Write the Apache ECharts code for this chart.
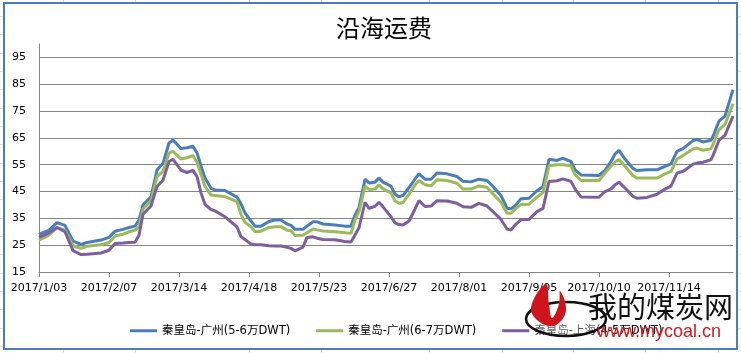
<!DOCTYPE html>
<html>
<head>
<meta charset="utf-8">
<script src="https://cdn.jsdelivr.net/npm/echarts@6/dist/echarts.min.js"></script>
<style>
	html, body { margin: 0; padding: 0; }
	body {
		width: 741px; height: 353px; position: relative; overflow: hidden;
		background-color: #fff;
		background-image: repeating-linear-gradient(to bottom, transparent 0, transparent 16px, #dadcdd 16px, #dadcdd 17px, transparent 17px, transparent 18.33px);
	}
	.col { position: absolute; top: 0; width: 1px; height: 353px; background: #dadcdd; }
	#frame {
		position: absolute; left: 3px; top: 2px; width: 731px; height: 344px;
		border: 2px solid #4a7ebb; background: #fff;
	}
	#main { position: absolute; left: 0; top: 0; width: 741px; height: 353px; }
</style>
</head>
<body>
<div id="frame"></div>
<div id="main"></div>
<script>
// days counted from 2017/1/03
var days = [0, 5, 9, 13, 17, 21, 24, 31, 35, 38, 42, 45, 48, 50, 52, 56, 59, 62, 65, 67,
	71, 74, 77, 79, 81, 83, 86, 88, 93, 99, 101, 103, 106, 108, 111, 115, 118, 121, 124, 126,
	128, 132, 134, 137, 139, 142, 148, 153, 156, 158, 160, 163, 165, 168, 170, 172, 176, 178, 180, 182,
	185, 188, 190, 193, 196, 199, 204, 209, 212, 216, 220, 224, 227, 231, 234, 236, 238, 241, 245, 249,
	252, 255, 259, 262, 266, 268, 271, 280, 283, 286, 288, 290, 293, 297, 299, 304, 309, 313, 316, 319,
	322, 327, 329, 332, 336, 337, 340, 343, 347];

var gz56 = [29, 30.6, 33.4, 32.4, 26.5, 25.3, 26, 26.9, 27.9, 30.2, 30.9, 31.6, 32.1, 34.4, 40, 43, 53, 55.5, 63.1, 64.2,
	61, 61.3, 61.9, 59.4, 54.5, 50, 46.2, 45.6, 45.4, 42.9, 40.4, 37, 34, 32.1, 32.1, 33.8, 34.4, 34.4, 32.9, 32.4,
	30.9, 30.9, 32.1, 33.7, 33.7, 32.9, 32.5, 32.1, 32.1, 36.2, 39.1, 49.6, 48.2, 48.5, 50, 48.5, 47, 44, 43.1, 43.5,
	46.5, 49.6, 51.6, 49.6, 49.6, 51.9, 51.6, 50.6, 48.8, 48.6, 49.6, 49.1, 46.9, 43.5, 38.8, 38.6, 39.6, 42.3, 42.5, 45.3,
	46.9, 57, 56.6, 57.4, 56.2, 53.1, 51.2, 51, 52.9, 56.2, 59, 60.4, 57.1, 53.6, 52.8, 53.1, 53.1, 54.4, 55.3, 60,
	61, 64, 64.4, 63.5, 64.1, 65.5, 71.3, 73.1, 83];

var gz67 = [26.9, 28.7, 31.6, 30.6, 24.8, 23.8, 24.6, 25.2, 25.9, 28.4, 29.1, 30, 30.6, 31.9, 38.5, 41.5, 50.6, 52.5, 59.4, 60,
	57.1, 57.6, 58.4, 55.9, 51.5, 46.9, 43.7, 43.5, 43.1, 41.2, 36.5, 33.5, 31.9, 30, 30.2, 31.6, 31.9, 31.9, 30.6, 30.4,
	28.6, 28.7, 29.6, 31, 30.7, 30.3, 30, 29.6, 29.4, 34.4, 37.5, 46.9, 45.8, 45.9, 47.5, 46, 44.5, 41.5, 40.6, 40.9,
	44, 47.5, 49.1, 47.5, 47.1, 49.4, 49.1, 48.1, 45.9, 45.9, 47.1, 46.6, 44.1, 41, 36.9, 36.9, 38.5, 40.2, 40.3, 42.9,
	44.6, 54.6, 55, 55, 54.6, 51.3, 49.1, 49.1, 51.9, 54.5, 56, 56.9, 54.4, 50.9, 50, 50, 50, 51.6, 52.5, 57.1,
	58.4, 60.9, 61.2, 60.4, 60.9, 62.5, 68.1, 70, 77.7];

var sh45 = [27.9, 29.6, 31.6, 30, 23, 21.5, 21.6, 22.1, 23.1, 25.6, 25.8, 26, 26.1, 28.7, 36.5, 39.6, 46.9, 49.2, 56.2, 57,
	53, 52.1, 52.9, 50.6, 44.5, 40.2, 38.3, 37.8, 35.6, 31.8, 28.2, 27.1, 25.4, 25.2, 25.2, 24.8, 24.7, 24.7, 24.2, 23.8,
	22.9, 24.3, 27.9, 28.1, 27.6, 27.1, 27, 26.4, 26.2, 28.8, 31.5, 41, 38.7, 39.5, 41, 39.3, 35.6, 33.3, 32.7, 32.5,
	34, 38.5, 41.6, 39.4, 39.6, 41.6, 41.5, 40.6, 39.3, 39.1, 40.6, 39.6, 37.5, 34.6, 31, 30.6, 32.5, 34.5, 34.6, 37.5,
	38.7, 48.75, 49, 49.7, 48.8, 46, 43, 42.9, 45, 46, 47.5, 48.5, 46.3, 43.2, 42.5, 42.8, 44, 45.9, 47, 51.9,
	52.5, 55.2, 55.6, 55.9, 56.9, 58.4, 64.1, 66, 73.1];

var seriesNames = ['秦皇岛-广州(5-6万DWT)', '秦皇岛-广州(6-7万DWT)', '秦皇岛-上海(4-5万DWT)'];
var seriesColors = ['#4a7ebb', '#9bbb59', '#7d5f9f'];
var sheetCols = [63, 135, 249, 321, 429, 502, 573, 645, 718];

sheetCols.forEach(function (x) {
	var d = document.createElement('div');
	d.className = 'col';
	d.style.left = x + 'px';
	document.body.insertBefore(d, document.getElementById('frame'));
});

function pair(vals) {
	return days.map(function (d, i) { return [d, vals[i]]; });
}

function dateLabel(v) {
	var d = new Date(2017, 0, 3 + v);
	var dd = d.getDate();
	return '2017/' + (d.getMonth() + 1) + '/' + (dd < 10 ? '0' + dd : dd);
}

var allVals = [gz56, gz67, sh45];
var series = [];
for (var i = 0; i < 3; i++) {
	series.push({
		name: seriesNames[i],
		type: 'line',
		showSymbol: false,
		lineStyle: { width: 3, color: seriesColors[i] },
		itemStyle: { color: seriesColors[i] },
		data: pair(allVals[i])
	});
}

var myChart = echarts.init(document.getElementById('main'));
var option = {
	animation: false,
	title: {
		text: '沿海运费',
		left: 331,
		top: 11,
		textStyle: { fontFamily: 'Noto Sans CJK SC', fontSize: 24, fontWeight: 'normal', color: '#000' }
	},
	legend: {
		left: 125,
		top: 320,
		icon: 'rect',
		itemWidth: 27,
		itemHeight: 3,
		itemGap: 26,
		data: seriesNames,
		textStyle: { fontFamily: 'DejaVu Sans, Noto Sans CJK SC', fontSize: 11.5, color: '#000' }
	},
	grid: { left: 39, right: 8, top: 44, bottom: 81 },
	xAxis: {
		type: 'value',
		min: 0,
		max: 347,
		interval: 35,
		axisLine: { lineStyle: { color: '#868686', width: 1 } },
		axisTick: { show: true, length: 5, lineStyle: { color: '#868686' } },
		splitLine: { show: false },
		axisLabel: {
			showMaxLabel: false,
			margin: 11,
			color: '#000',
			fontFamily: 'DejaVu Sans',
			fontSize: 11,
			formatter: dateLabel
		}
	},
	yAxis: {
		type: 'value',
		min: 15,
		max: 100,
		interval: 10,
		axisLine: { show: true, lineStyle: { color: '#868686', width: 1 } },
		axisTick: { show: false },
		splitLine: { show: true, showMaxLine: false, lineStyle: { color: '#868686', width: 1 } },
		axisLabel: {
			showMaxLabel: false,
			margin: 13,
			color: '#000',
			fontFamily: 'DejaVu Sans',
			fontSize: 11
		}
	},
	graphic: [
		{
			type: 'ellipse', z: 100,
			shape: { cx: 566, cy: 319, rx: 40, ry: 17 },
			style: { fill: 'rgba(255,255,255,0.35)', stroke: '#111', lineWidth: 2.5 }
		},
		{
			type: 'polygon', z: 101,
			shape: {
				smooth: 0.4,
				points: [[541, 323], [531, 308], [546, 284], [549, 304], [552, 318], [559, 304], [560, 291], [566, 310], [556, 325]]
			},
			style: { fill: '#d0141c' }
		},
		{
			type: 'text', z: 102, left: 588, top: 292,
			style: { text: '我的煤炭网', fontFamily: 'Noto Sans CJK SC', fontSize: 29, fill: '#111' }
		},
		{
			type: 'text', z: 102, left: 597, top: 323,
			style: { text: 'www.mycoal.cn', fontFamily: 'Liberation Sans', fontSize: 18, fill: '#d7181f' }
		}
	],
	series: series
};
myChart.setOption(option);
</script>
</body>
</html>
